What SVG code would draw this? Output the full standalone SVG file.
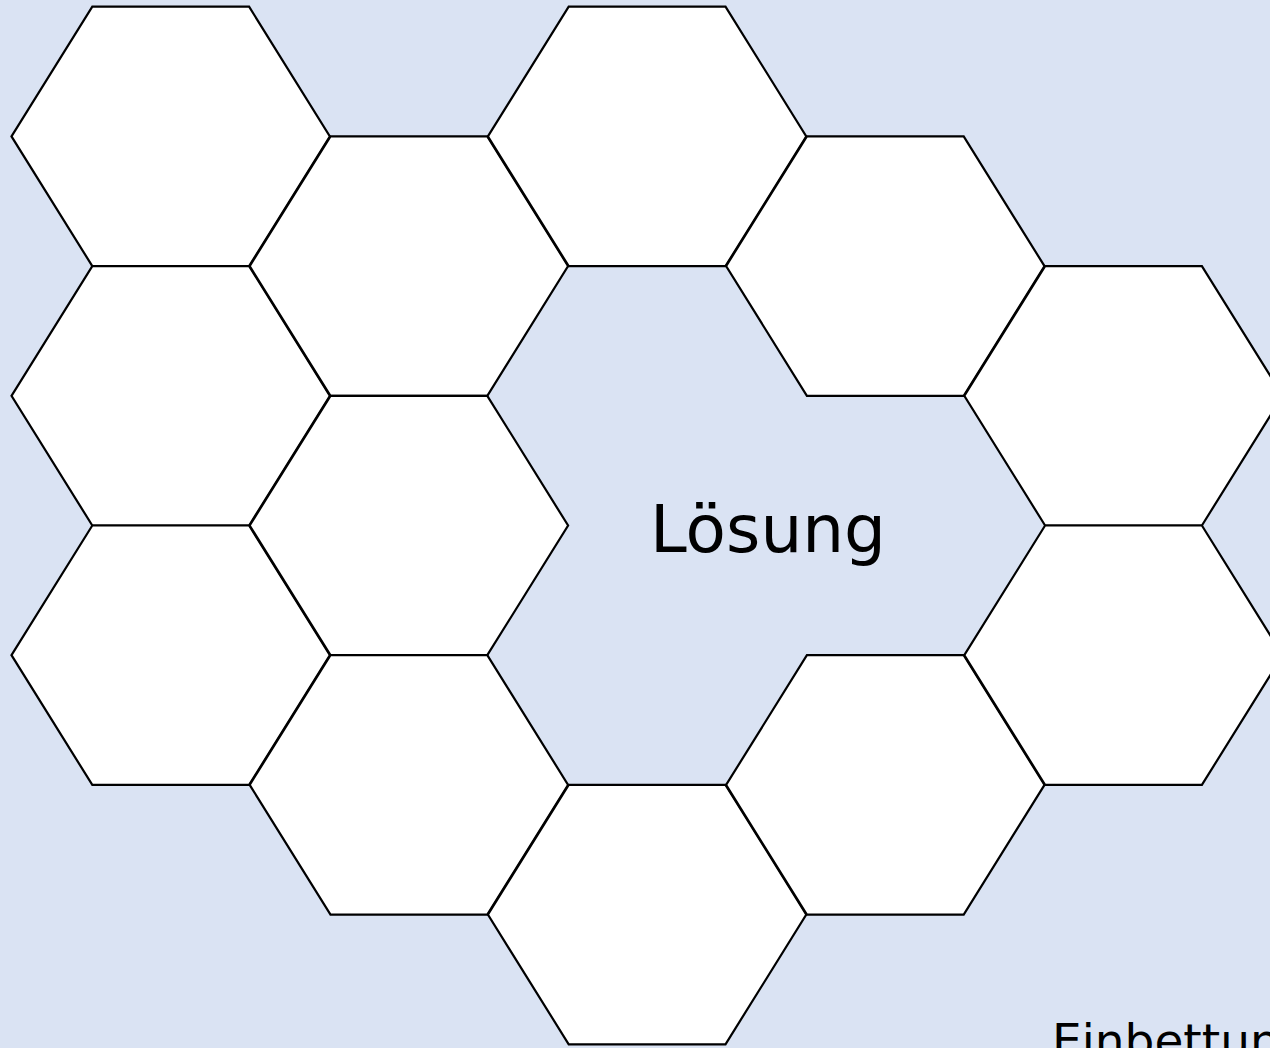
<svg xmlns="http://www.w3.org/2000/svg" xmlns:xlink="http://www.w3.org/1999/xlink" width="1270" height="1048" viewBox="0 0 1270 1048">
<style>
.hex{fill:#ffffff;stroke:#000000;stroke-width:2.2;stroke-linejoin:miter}
.lbl{font-family:"DejaVu Sans","Liberation Sans",sans-serif;fill:#000000}
</style>
<defs>
<polygon id="h" points="-159.2,0 -78.4,-129.7 78.4,-129.7 159.2,0 78.4,129.7 -78.4,129.7"/>
</defs>
<rect x="0" y="0" width="1270" height="1048" fill="#dae3f3"/>
<g id="connectors"/>
<g id="hex-1-1"><use xlink:href="#h" class="hex" x="170.7" y="136.4"/></g>
<g id="hex-1-2"><use xlink:href="#h" class="hex" x="170.7" y="395.8"/></g>
<g id="hex-1-3"><use xlink:href="#h" class="hex" x="170.7" y="655.2"/></g>
<g id="hex-2-1"><use xlink:href="#h" class="hex" x="408.9" y="266.1"/></g>
<g id="hex-2-2"><use xlink:href="#h" class="hex" x="408.9" y="525.5"/></g>
<g id="hex-2-3"><use xlink:href="#h" class="hex" x="408.9" y="784.9"/></g>
<g id="hex-3-1"><use xlink:href="#h" class="hex" x="647.1" y="136.4"/></g>
<g id="hex-3-2"><use xlink:href="#h" class="hex" x="647.1" y="914.6"/></g>
<g id="hex-4-1"><use xlink:href="#h" class="hex" x="885.3" y="266.1"/></g>
<g id="hex-4-2"><use xlink:href="#h" class="hex" x="885.3" y="784.9"/></g>
<g id="hex-5-1"><use xlink:href="#h" class="hex" x="1123.5" y="395.8"/></g>
<g id="hex-5-2"><use xlink:href="#h" class="hex" x="1123.5" y="655.2"/></g>
<g id="label-loesung"><text class="lbl" x="650" y="552" font-size="66">Lösung</text></g>
<g id="label-einbettung"><text class="lbl" x="1052" y="1057" font-size="47">Einbettung</text></g>
</svg>
